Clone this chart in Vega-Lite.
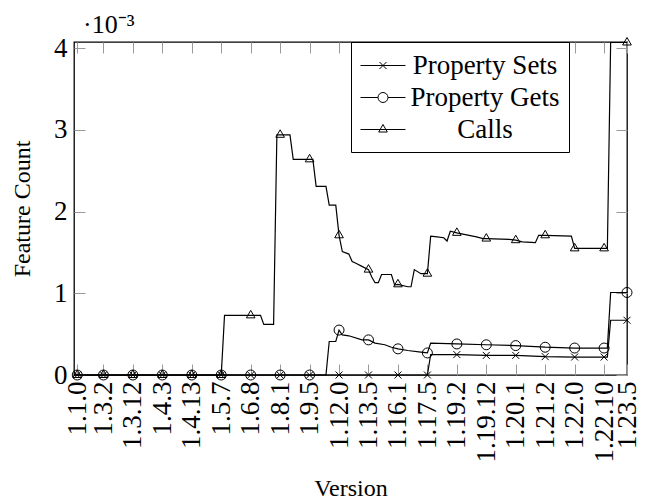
{
  "$schema": "https://vega.github.io/schema/vega-lite/v6.json",
  "width": 553,
  "height": 333,
  "autosize": {"type": "none"},
  "padding": {"left": 74, "top": 42, "right": 23, "bottom": 129},
  "background": "white",
  "config": {
    "view": {"stroke": "black", "strokeWidth": 1.3},
    "font": "Liberation Serif",
    "axis": {
      "labelFont": "Liberation Serif",
      "titleFont": "Liberation Serif",
      "labelColor": "black",
      "titleColor": "black",
      "titleFontWeight": "normal",
      "tickColor": "#9a9a9a",
      "tickWidth": 1,
      "tickSize": -11,
      "domain": false,
      "grid": false
    }
  },
  "title": {
    "text": "·10⁻³",
    "anchor": "start",
    "frame": "group",
    "font": "Liberation Serif",
    "fontSize": 26,
    "fontWeight": "normal",
    "color": "black",
    "dx": 9,
    "offset": -4
  },
  "datasets": {
    "counts": [
      {"series": "Calls", "index": 0, "count": 0},
      {"series": "Calls", "index": 1, "count": 0, "version": "1.1.0"},
      {"series": "Calls", "index": 9, "count": 0, "version": "1.3.2"},
      {"series": "Calls", "index": 18, "count": 0, "version": "1.3.12"},
      {"series": "Calls", "index": 27, "count": 0, "version": "1.4.3"},
      {"series": "Calls", "index": 36, "count": 0, "version": "1.4.13"},
      {"series": "Calls", "index": 45, "count": 0, "version": "1.5.7"},
      {"series": "Calls", "index": 46, "count": 0.00073},
      {"series": "Calls", "index": 54, "count": 0.00073, "version": "1.6.8"},
      {"series": "Calls", "index": 57, "count": 0.00073},
      {"series": "Calls", "index": 58, "count": 0.00062},
      {"series": "Calls", "index": 61, "count": 0.00062},
      {"series": "Calls", "index": 62, "count": 0.00294},
      {"series": "Calls", "index": 63, "count": 0.00294, "version": "1.8.1"},
      {"series": "Calls", "index": 66, "count": 0.00294},
      {"series": "Calls", "index": 67, "count": 0.00264},
      {"series": "Calls", "index": 72, "count": 0.00264, "version": "1.9.5"},
      {"series": "Calls", "index": 73, "count": 0.00264},
      {"series": "Calls", "index": 74, "count": 0.00231},
      {"series": "Calls", "index": 77, "count": 0.00231},
      {"series": "Calls", "index": 78, "count": 0.00208},
      {"series": "Calls", "index": 80, "count": 0.00208},
      {"series": "Calls", "index": 81, "count": 0.00171, "version": "1.12.0"},
      {"series": "Calls", "index": 82, "count": 0.00151},
      {"series": "Calls", "index": 84, "count": 0.00148},
      {"series": "Calls", "index": 85, "count": 0.00139},
      {"series": "Calls", "index": 86, "count": 0.00137},
      {"series": "Calls", "index": 88, "count": 0.00133},
      {"series": "Calls", "index": 90, "count": 0.00129, "version": "1.13.5"},
      {"series": "Calls", "index": 91, "count": 0.0012},
      {"series": "Calls", "index": 92, "count": 0.00113},
      {"series": "Calls", "index": 93, "count": 0.00113},
      {"series": "Calls", "index": 94, "count": 0.00123},
      {"series": "Calls", "index": 97, "count": 0.00123},
      {"series": "Calls", "index": 98, "count": 0.0011},
      {"series": "Calls", "index": 99, "count": 0.00111, "version": "1.16.1"},
      {"series": "Calls", "index": 102, "count": 0.00108},
      {"series": "Calls", "index": 103, "count": 0.00108},
      {"series": "Calls", "index": 104, "count": 0.00129},
      {"series": "Calls", "index": 106, "count": 0.00124},
      {"series": "Calls", "index": 108, "count": 0.00124, "version": "1.17.5"},
      {"series": "Calls", "index": 109, "count": 0.0017},
      {"series": "Calls", "index": 111, "count": 0.00169},
      {"series": "Calls", "index": 113, "count": 0.00168},
      {"series": "Calls", "index": 114, "count": 0.00164},
      {"series": "Calls", "index": 115, "count": 0.00176},
      {"series": "Calls", "index": 117, "count": 0.00174, "version": "1.19.2"},
      {"series": "Calls", "index": 123, "count": 0.00169},
      {"series": "Calls", "index": 125, "count": 0.00167},
      {"series": "Calls", "index": 126, "count": 0.00167, "version": "1.19.12"},
      {"series": "Calls", "index": 133, "count": 0.00166},
      {"series": "Calls", "index": 135, "count": 0.00165, "version": "1.20.1"},
      {"series": "Calls", "index": 137, "count": 0.00163},
      {"series": "Calls", "index": 141, "count": 0.00162},
      {"series": "Calls", "index": 142, "count": 0.00171},
      {"series": "Calls", "index": 144, "count": 0.00171, "version": "1.21.2"},
      {"series": "Calls", "index": 152, "count": 0.0017},
      {"series": "Calls", "index": 153, "count": 0.00155, "version": "1.22.0"},
      {"series": "Calls", "index": 162, "count": 0.00155, "version": "1.22.10"},
      {"series": "Calls", "index": 163, "count": 0.00155},
      {"series": "Calls", "index": 164, "count": 0.00407},
      {"series": "Calls", "index": 169, "count": 0.00407, "version": "1.23.5"},

      {"series": "Property Gets", "index": 0, "count": 0},
      {"series": "Property Gets", "index": 1, "count": 0, "version": "1.1.0"},
      {"series": "Property Gets", "index": 9, "count": 0, "version": "1.3.2"},
      {"series": "Property Gets", "index": 18, "count": 0, "version": "1.3.12"},
      {"series": "Property Gets", "index": 27, "count": 0, "version": "1.4.3"},
      {"series": "Property Gets", "index": 36, "count": 0, "version": "1.4.13"},
      {"series": "Property Gets", "index": 45, "count": 0, "version": "1.5.7"},
      {"series": "Property Gets", "index": 54, "count": 0, "version": "1.6.8"},
      {"series": "Property Gets", "index": 63, "count": 0, "version": "1.8.1"},
      {"series": "Property Gets", "index": 72, "count": 0, "version": "1.9.5"},
      {"series": "Property Gets", "index": 77, "count": 0},
      {"series": "Property Gets", "index": 78, "count": 0.00041},
      {"series": "Property Gets", "index": 80, "count": 0.00041},
      {"series": "Property Gets", "index": 81, "count": 0.00055, "version": "1.12.0"},
      {"series": "Property Gets", "index": 82, "count": 0.00049},
      {"series": "Property Gets", "index": 84, "count": 0.00048},
      {"series": "Property Gets", "index": 88, "count": 0.00043},
      {"series": "Property Gets", "index": 90, "count": 0.00043, "version": "1.13.5"},
      {"series": "Property Gets", "index": 92, "count": 0.00039},
      {"series": "Property Gets", "index": 95, "count": 0.00037},
      {"series": "Property Gets", "index": 97, "count": 0.00034},
      {"series": "Property Gets", "index": 99, "count": 0.00032, "version": "1.16.1"},
      {"series": "Property Gets", "index": 102, "count": 0.0003},
      {"series": "Property Gets", "index": 106, "count": 0.00028},
      {"series": "Property Gets", "index": 108, "count": 0.00027, "version": "1.17.5"},
      {"series": "Property Gets", "index": 109, "count": 0.00039},
      {"series": "Property Gets", "index": 117, "count": 0.00038, "version": "1.19.2"},
      {"series": "Property Gets", "index": 126, "count": 0.00037, "version": "1.19.12"},
      {"series": "Property Gets", "index": 135, "count": 0.00036, "version": "1.20.1"},
      {"series": "Property Gets", "index": 144, "count": 0.00034, "version": "1.21.2"},
      {"series": "Property Gets", "index": 153, "count": 0.00033, "version": "1.22.0"},
      {"series": "Property Gets", "index": 162, "count": 0.00033, "version": "1.22.10"},
      {"series": "Property Gets", "index": 163, "count": 0.00033},
      {"series": "Property Gets", "index": 164, "count": 0.00101},
      {"series": "Property Gets", "index": 169, "count": 0.00101, "version": "1.23.5"},

      {"series": "Property Sets", "index": 0, "count": 0},
      {"series": "Property Sets", "index": 1, "count": 0, "version": "1.1.0"},
      {"series": "Property Sets", "index": 9, "count": 0, "version": "1.3.2"},
      {"series": "Property Sets", "index": 18, "count": 0, "version": "1.3.12"},
      {"series": "Property Sets", "index": 27, "count": 0, "version": "1.4.3"},
      {"series": "Property Sets", "index": 36, "count": 0, "version": "1.4.13"},
      {"series": "Property Sets", "index": 45, "count": 0, "version": "1.5.7"},
      {"series": "Property Sets", "index": 54, "count": 0, "version": "1.6.8"},
      {"series": "Property Sets", "index": 63, "count": 0, "version": "1.8.1"},
      {"series": "Property Sets", "index": 72, "count": 0, "version": "1.9.5"},
      {"series": "Property Sets", "index": 81, "count": 0, "version": "1.12.0"},
      {"series": "Property Sets", "index": 90, "count": 0, "version": "1.13.5"},
      {"series": "Property Sets", "index": 99, "count": 0, "version": "1.16.1"},
      {"series": "Property Sets", "index": 108, "count": 0, "version": "1.17.5"},
      {"series": "Property Sets", "index": 109, "count": 0.00025},
      {"series": "Property Sets", "index": 117, "count": 0.00025, "version": "1.19.2"},
      {"series": "Property Sets", "index": 126, "count": 0.00024, "version": "1.19.12"},
      {"series": "Property Sets", "index": 135, "count": 0.00024, "version": "1.20.1"},
      {"series": "Property Sets", "index": 144, "count": 0.000225, "version": "1.21.2"},
      {"series": "Property Sets", "index": 153, "count": 0.00022, "version": "1.22.0"},
      {"series": "Property Sets", "index": 162, "count": 0.00022, "version": "1.22.10"},
      {"series": "Property Sets", "index": 163, "count": 0.00022},
      {"series": "Property Sets", "index": 164, "count": 0.00067},
      {"series": "Property Sets", "index": 169, "count": 0.00067, "version": "1.23.5"}
    ]
  },
  "data": {"name": "counts"},
  "layer": [
    {
      "mark": {"type": "line", "color": "black", "strokeWidth": 1.2},
      "encoding": {
        "x": {
          "field": "index",
          "type": "quantitative",
          "scale": {"domain": [0, 169], "nice": false, "zero": false},
          "axis": {
            "orient": "bottom",
            "values": [1, 9, 18, 27, 36, 45, 54, 63, 72, 81, 90, 99, 108, 117, 126, 135, 144, 153, 162, 169],
            "labelExpr": "{'1':'1.1.0','9':'1.3.2','18':'1.3.12','27':'1.4.3','36':'1.4.13','45':'1.5.7','54':'1.6.8','63':'1.8.1','72':'1.9.5','81':'1.12.0','90':'1.13.5','99':'1.16.1','108':'1.17.5','117':'1.19.2','126':'1.19.12','135':'1.20.1','144':'1.21.2','153':'1.22.0','162':'1.22.10','169':'1.23.5'}[datum.value]",
            "labelAngle": -90,
            "labelFontSize": 27,
            "labelPadding": 17,
            "labelOverlap": false,
            "labelFlush": false,
            "labelBound": false,
            "title": "Version",
            "titleFontSize": 24,
            "titlePadding": 14
          }
        },
        "y": {
          "field": "count",
          "type": "quantitative",
          "scale": {"domain": [0, 0.004076], "nice": false},
          "axis": {
            "orient": "left",
            "values": [0, 0.001, 0.002, 0.003, 0.004],
            "labelExpr": "format(datum.value * 1000, 'd')",
            "labelFontSize": 27,
            "labelPadding": 18,
            "labelOverlap": false,
            "labelFlush": false,
            "labelBound": false,
            "title": "Feature Count",
            "titleFontSize": 24,
            "titlePadding": 19
          }
        },
        "detail": {"field": "series"}
      }
    },
    {
      "transform": [{"filter": "isValid(datum.version)"}],
      "mark": {"type": "point", "filled": false, "color": "black", "size": 100, "strokeWidth": 1, "opacity": 1},
      "encoding": {
        "x": {
          "field": "index",
          "type": "quantitative",
          "axis": {
            "orient": "top",
            "values": [1, 9, 18, 27, 36, 45, 54, 63, 72, 81, 90, 99, 108, 117, 126, 135, 144, 153, 162, 169],
            "labels": false,
            "title": null
          }
        },
        "y": {
          "field": "count",
          "type": "quantitative",
          "axis": {
            "orient": "right",
            "values": [0, 0.001, 0.002, 0.003, 0.004],
            "labels": false,
            "title": null
          }
        },
        "shape": {
          "field": "series",
          "type": "nominal",
          "scale": {
            "domain": ["Property Sets", "Property Gets", "Calls"],
            "range": [
              "M-0.7,-0.7L0.7,0.7M-0.7,0.7L0.7,-0.7",
              "M1,0A1,1,0,1,1,-1,0A1,1,0,1,1,1,0Z",
              "M0,-1L0.866,0.5L-0.866,0.5Z"
            ]
          },
          "legend": null
        }
      }
    },
    {
      "transform": [{"filter": "false"}],
      "mark": {"type": "point", "filled": false, "color": "black", "strokeWidth": 1, "opacity": 1},
      "encoding": {
        "x": {"field": "index", "type": "quantitative", "axis": null},
        "y": {"field": "count", "type": "quantitative", "axis": null},
        "shape": {
          "field": "series",
          "type": "nominal",
          "scale": {
            "domain": ["Property Sets", "Property Gets", "Calls"],
            "range": [
              "M-1,0L2.214,0M0.357,-0.25L0.857,0.25M0.357,0.25L0.857,-0.25",
              "M-1,0L0.25,0M0.964,0L2.214,0M0.964,0A0.357,0.357,0,1,1,0.25,0A0.357,0.357,0,1,1,0.964,0",
              "M-1,0L2.214,0M0.607,-0.357L0.916,0.179L0.298,0.179Z"
            ]
          },
          "legend": {
            "orient": "none",
            "legendX": 277,
            "legendY": 0,
            "title": null,
            "symbolSize": 784,
            "symbolStrokeColor": "black",
            "symbolStrokeWidth": 1,
            "symbolFillColor": "transparent",
            "labelFont": "Liberation Serif",
            "labelFontSize": 27,
            "labelColor": "black",
            "labelAlign": "center",
            "labelOffset": 96,
            "labelLimit": 0,
            "strokeColor": "black",
            "fillColor": "white",
            "padding": 9,
            "rowPadding": 4,
            "cornerRadius": 0
          }
        }
      }
    }
  ],
  "resolve": {
    "scale": {"shape": "independent"},
    "axis": {"x": "independent", "y": "independent"},
    "legend": {"shape": "independent"}
  }
}
